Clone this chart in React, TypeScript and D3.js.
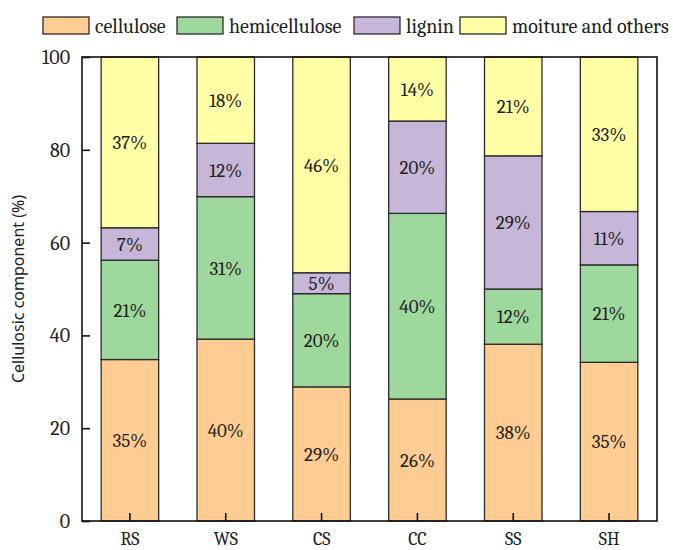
import React, { useEffect, useRef } from 'react';
import * as d3 from 'd3';

const categories = ['RS', 'WS', 'CS', 'CC', 'SS', 'SH'];
const seriesNames = ['cellulose', 'hemicellulose', 'lignin', 'moiture and others'];
const cellulose = [34.8, 39.2, 28.9, 26.3, 38.1, 34.2];
const hemicellulose = [21.4, 30.7, 20.1, 40.0, 11.9, 21.0];
const lignin = [7.0, 11.5, 4.5, 19.9, 28.7, 11.5];
const others = [36.8, 18.6, 46.5, 13.8, 21.3, 33.3];
const labels = [
  ['35%', '40%', '29%', '26%', '38%', '35%'],
  ['21%', '31%', '20%', '40%', '12%', '21%'],
  ['7%', '12%', '5%', '20%', '29%', '11%'],
  ['37%', '18%', '46%', '14%', '21%', '33%'],
];
const yTicks = [0, 20, 40, 60, 80, 100];
const colors = ['#ffcc94', '#9ed89c', '#c6b6d8', '#ffffa6'];

const W = 673;
const H = 550;
const margin = { top: 57, right: 16, bottom: 29, left: 82 };
const serif = 'Cambria, "Liberation Serif", serif';

const App = () => {
  const ref = useRef<SVGSVGElement>(null);

  useEffect(() => {
    const svg = d3.select(ref.current);
    svg.selectAll('*').remove();

    const series = [cellulose, hemicellulose, lignin, others];
    const rows = categories.map((c, i) => {
      const r: any = { cat: c };
      seriesNames.forEach((s, k) => (r[s] = series[k][i]));
      return r;
    });
    const stacked = d3.stack().keys(seriesNames)(rows);

    const x = d3.scaleBand().domain(categories).range([margin.left, W - margin.right]).paddingInner(0.4).paddingOuter(0.2);
    const y = d3.scaleLinear().domain([0, 100]).range([H - margin.bottom, margin.top]);

    const g = svg.append('g');
    stacked.forEach((layer, k) => {
      layer.forEach((d, i) => {
        const x0 = x(categories[i])!;
        g.append('rect')
          .attr('x', x0)
          .attr('y', y(d[1]))
          .attr('width', x.bandwidth())
          .attr('height', y(d[0]) - y(d[1]))
          .attr('fill', colors[k])
          .attr('stroke', '#2b2b2b')
          .attr('stroke-width', 1.3);
        g.append('text')
          .attr('x', x0 + x.bandwidth() / 2)
          .attr('y', y((d[0] + d[1]) / 2))
          .attr('dy', '0.35em')
          .attr('text-anchor', 'middle')
          .style('font-family', serif)
          .style('font-size', '19px')
          .attr('fill', '#222')
          .text(labels[k][i]);
      });
    });

    // frame
    svg.append('rect')
      .attr('x', margin.left)
      .attr('y', margin.top)
      .attr('width', W - margin.left - margin.right)
      .attr('height', H - margin.top - margin.bottom)
      .attr('fill', 'none')
      .attr('stroke', '#111')
      .attr('stroke-width', 1.6);

    const yAxis = svg.append('g')
      .attr('transform', `translate(${margin.left},0)`)
      .call(d3.axisLeft(y).tickValues(yTicks).tickSizeInner(-8).tickSizeOuter(0).tickPadding(12));
    yAxis.select('.domain').remove();
    yAxis.selectAll('line').attr('stroke', '#111').attr('stroke-width', 1.6);
    yAxis.selectAll('text').style('font-family', serif).style('font-size', '20px').attr('fill', '#222');

    const xAxis = svg.append('g')
      .attr('transform', `translate(0,${H - margin.bottom})`)
      .call(d3.axisBottom(x).tickSizeInner(-8).tickSizeOuter(0).tickPadding(11));
    xAxis.select('.domain').remove();
    xAxis.selectAll('line').attr('stroke', '#111').attr('stroke-width', 1.6);
    xAxis.selectAll('text').style('font-family', serif).style('font-size', '18px').attr('fill', '#222');

    svg.append('text')
      .attr('transform', `translate(24,${(margin.top + H - margin.bottom) / 2}) rotate(-90)`)
      .attr('text-anchor', 'middle')
      .style('font-family', '"Noto Sans", "Open Sans", sans-serif')
      .style('font-size', '16px')
      .attr('fill', '#222')
      .text('Cellulosic component (%)');

    // legend
    const legendX = [43, 177, 354, 460];
    seriesNames.forEach((s, k) => {
      const lg = svg.append('g').attr('transform', `translate(${legendX[k]},17)`);
      lg.append('rect').attr('width', 46).attr('height', 17).attr('fill', colors[k]).attr('stroke', '#2b2b2b').attr('stroke-width', 1.3);
      lg.append('text')
        .attr('x', 52)
        .attr('y', 9)
        .attr('dy', '0.35em')
        .style('font-family', serif)
        .style('font-size', '20px')
        .attr('fill', '#222')
        .text(s);
    });
  }, []);

  return (
    <svg
      ref={ref}
      width={W}
      height={H}
      style={{ position: 'absolute', top: 0, left: 0, background: '#fff' }}
    />
  );
};

export default App;
